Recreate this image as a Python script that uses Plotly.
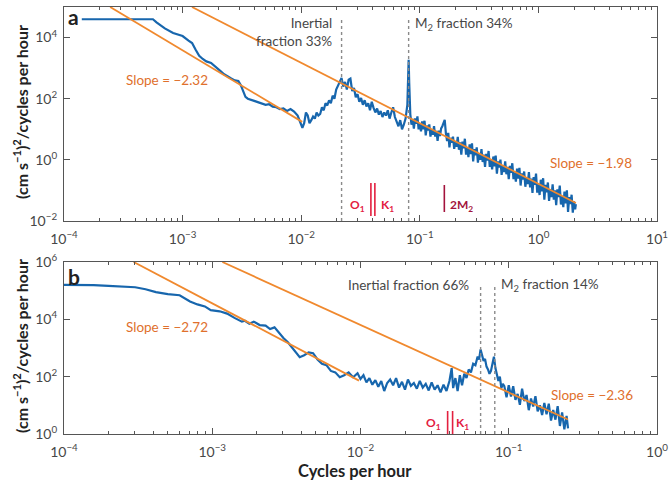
import numpy as np
import plotly.graph_objects as go

# ---------------- data (log10 values) ----------------
# Panel a: log10(cycles per hour), log10(power)
a_logf = [-3.85, -3.70, -3.55, -3.40, -3.25, -3.22, -3.15, -3.08, -3.00, -2.95,
          -2.92, -2.89, -2.86, -2.83, -2.80, -2.76, -2.72, -2.68, -2.65, -2.62,
          -2.59, -2.56, -2.53, -2.51, -2.49, -2.47, -2.45, -2.42, -2.39, -2.36,
          -2.33, -2.30, -2.27, -2.24, -2.21, -2.18, -2.15, -2.12, -2.09, -2.06,
          -2.03, -2.01, -1.99, -1.975, -1.96, -1.945, -1.93, -1.915, -1.90, -1.885,
          -1.87, -1.855, -1.84, -1.825, -1.81, -1.795, -1.78, -1.765, -1.75, -1.735,
          -1.72, -1.705, -1.69, -1.675, -1.66,
          -1.645, -1.63, -1.615, -1.60, -1.585, -1.57, -1.555, -1.54, -1.525, -1.51,
          -1.495, -1.48, -1.465, -1.45, -1.435, -1.42, -1.405, -1.39, -1.375, -1.36,
          -1.345, -1.33, -1.315, -1.30, -1.285, -1.27, -1.255, -1.24, -1.225, -1.21,
          -1.195, -1.18, -1.165, -1.15, -1.135, -1.12, -1.105, -1.099, -1.094, -1.089,
          -1.085,
          -1.08, -1.07, -1.06, -1.05, -1.04, -1.03, -1.02, -1.01, -1.00, -0.99,
          -0.98, -0.97, -0.96, -0.95, -0.94, -0.93, -0.92, -0.91, -0.90, -0.89,
          -0.88, -0.87, -0.86, -0.85, -0.84, -0.83, -0.82, -0.81, -0.80, -0.79,
          -0.78, -0.77, -0.76, -0.75, -0.74, -0.73, -0.72, -0.71, -0.70, -0.69,
          -0.68, -0.67, -0.66, -0.65, -0.64, -0.63, -0.62, -0.61, -0.60, -0.59,
          -0.58, -0.57, -0.56, -0.55, -0.54, -0.53, -0.52, -0.51, -0.50, -0.49,
          -0.48, -0.47, -0.46, -0.45, -0.44, -0.43, -0.42, -0.41, -0.40, -0.39,
          -0.38, -0.37, -0.36, -0.35, -0.34, -0.33, -0.32, -0.31, -0.30, -0.29,
          -0.28, -0.27, -0.26, -0.25, -0.24, -0.23, -0.22, -0.21, -0.20, -0.19,
          -0.18, -0.17, -0.16, -0.15, -0.14, -0.13, -0.12, -0.11, -0.10, -0.09,
          -0.08, -0.07, -0.06, -0.05, -0.04, -0.03, -0.02, -0.01, 0.00, 0.01,
          0.02, 0.03, 0.04, 0.05, 0.06, 0.07, 0.08, 0.09, 0.10, 0.11,
          0.12, 0.13, 0.14, 0.15, 0.16, 0.17, 0.18, 0.19, 0.20, 0.21,
          0.22, 0.23, 0.24, 0.25, 0.26, 0.27, 0.28, 0.29, 0.30, 0.31,
          0.316]
a_logp = [4.60, 4.60, 4.61, 4.60, 4.60, 4.50, 4.30, 4.15, 4.05, 3.90,
          3.82, 3.60, 3.40, 3.30, 3.22, 3.17, 3.05, 2.90, 2.80, 2.72,
          2.66, 2.60, 2.58, 2.45, 2.25, 2.06, 2.00, 1.95, 1.92, 1.88,
          1.84, 1.80, 1.82, 1.74, 1.72, 1.66, 1.68, 1.60, 1.66, 1.58,
          1.45, 1.25, 1.05, 1.20, 1.55, 1.45, 1.20, 1.30, 1.42, 1.35,
          1.55, 1.45, 1.50, 1.72, 1.62, 1.85, 1.78, 1.95, 1.85, 2.10,
          2.00, 2.30, 2.45, 2.55, 2.68,
          2.40, 2.55, 2.30, 2.62, 2.66, 2.25, 2.35, 2.05, 2.15, 1.90,
          2.02, 1.80, 1.95, 1.75, 1.85, 1.62, 1.90, 1.70, 1.55, 1.68,
          1.48, 1.60, 1.40, 1.55, 1.45, 1.62, 1.35, 1.55, 1.72, 1.40,
          1.25, 1.10, 1.30, 1.00, 1.15, 1.35, 1.80, 2.60, 3.27, 2.50,
          1.70,
          1.49, 1.15, 1.34, 1.02, 1.36, 1.18, 1.42, 1.00, 1.17, 0.93,
          1.26, 1.00, 1.28, 0.80, 1.12, 0.96, 1.16, 0.76, 1.00, 0.82,
          1.10, 0.76, 0.95, 0.62, 0.96, 0.78, 1.03, 1.10, 1.20, 1.31,
          0.87, 0.61, 0.88, 0.41, 0.72, 0.56, 0.76, 0.36, 0.61, 0.43,
          0.75, 0.33, 0.57, 0.17, 0.60, 0.38, 0.69, 0.17, 0.39, 0.09,
          0.51, 0.19, 0.54, -0.05, 0.35, 0.15, 0.41, -0.09, 0.22, 0.00,
          0.35, -0.07, 0.17, -0.23, 0.20, -0.02, 0.29, -0.23, -0.01, -0.31,
          0.11, -0.21, 0.14, -0.45, -0.05, -0.25, 0.01, -0.49, -0.18, -0.40,
          -0.05, -0.47, -0.23, -0.63, -0.20, -0.42, -0.11, -0.63, -0.41, -0.71,
          -0.29, -0.61, -0.26, -0.84, -0.44, -0.64, -0.38, -0.88, -0.57, -0.79,
          -0.40, -0.90, -0.61, -1.08, -0.56, -0.82, -0.45, -1.07, -0.80, -1.15,
          -0.65, -1.03, -0.60, -1.30, -0.82, -1.06, -0.74, -1.34, -0.96, -1.22,
          -0.80, -1.30, -1.00, -1.48, -0.96, -1.22, -0.84, -1.46, -1.19, -1.55,
          -1.04, -1.42, -1.00, -1.70, -1.22, -1.45, -1.14, -1.73, -1.36, -1.62,
          -1.45]

# Panel b
b_logf = [-4.00, -3.90, -3.80, -3.70, -3.60, -3.52, -3.45, -3.38, -3.30, -3.22,
          -3.15, -3.10, -3.05, -3.01, -2.95, -2.90, -2.85, -2.80, -2.78, -2.75,
          -2.72, -2.68, -2.64, -2.61, -2.58, -2.55, -2.52, -2.49, -2.46, -2.43,
          -2.41, -2.38, -2.35, -2.32, -2.29, -2.26, -2.23, -2.20, -2.17, -2.14,
          -2.11, -2.08, -2.05, -2.02, -2.00, -1.98, -1.96, -1.94, -1.92, -1.90,
          -1.88, -1.86, -1.84, -1.82, -1.80, -1.78, -1.76, -1.74, -1.72, -1.70,
          -1.68, -1.66, -1.64, -1.62, -1.60, -1.58, -1.56, -1.54, -1.52, -1.50,
          -1.48, -1.46, -1.44, -1.42, -1.40, -1.385, -1.375, -1.36, -1.345, -1.33,
          -1.315, -1.30, -1.285, -1.27, -1.255, -1.24, -1.225, -1.21, -1.20, -1.19,
          -1.18, -1.17, -1.16, -1.15, -1.14, -1.13, -1.12, -1.11, -1.10, -1.09,
          -1.08, -1.07, -1.06, -1.05, -1.04,
          -1.03, -1.015, -1.00, -0.985, -0.97, -0.955, -0.94, -0.925, -0.91, -0.895,
          -0.88, -0.865, -0.85, -0.835, -0.82, -0.805, -0.79, -0.775, -0.76, -0.745,
          -0.73, -0.715, -0.70, -0.685, -0.67, -0.655, -0.64, -0.625, -0.61, -0.60]
b_logp = [5.20, 5.20, 5.19, 5.17, 5.14, 5.12, 5.05, 4.95, 4.88, 4.84,
          4.62, 4.52, 4.45, 4.32, 4.28, 4.20, 4.05, 3.92, 3.95, 3.85,
          3.92, 3.80, 3.78, 3.66, 3.72, 3.52, 3.35, 3.20, 3.00, 2.80,
          2.68, 2.75, 2.85, 2.82, 2.60, 2.45, 2.40, 2.20, 2.15, 1.98,
          2.05, 2.15, 1.98, 2.12, 1.92, 2.05, 1.80, 1.95, 1.72, 1.88,
          1.65, 1.85, 1.50, 1.78, 1.90, 1.70, 1.95, 1.62, 1.82, 1.55,
          1.90, 1.68, 1.78, 1.58, 1.85, 1.62, 1.75, 1.52, 1.80, 1.55,
          1.70, 1.45, 1.72, 1.50, 1.85, 2.30, 1.60, 1.95, 1.50, 2.05,
          1.70, 2.10, 1.95, 2.25, 2.15, 2.45, 2.40, 2.70, 2.60, 2.95,
          2.75, 2.55, 2.62, 2.35, 2.25, 2.10, 2.20, 2.45, 2.70, 2.30,
          2.05, 1.85, 2.00, 1.60, 1.75,
          1.67, 1.28, 1.70, 1.31, 1.67, 1.19, 1.40, 1.02, 1.58, 1.15,
          1.36, 0.83, 1.24, 0.96, 1.32, 0.79, 1.00, 0.66, 1.08, 0.69,
          1.06, 0.47, 0.84, 0.50, 0.97, 0.28, 0.75, 0.16, 0.63, 0.20]

# Fitted power-law segments (endpoints: cycles per hour, power)
fit_a1_f = [2.45e-4, 1.02e-2]
fit_a1_p = [1.0e5, 17.5]
fit_a2_f = [1.20e-3, 2.07]
fit_a2_p = [1.0e5, 0.039]
fit_b1_f = [2.95e-4, 9.77e-3]
fit_b1_p = [1.0e6, 73.0]
fit_b2_f = [1.17e-3, 0.251]
fit_b2_p = [1.0e6, 3.2]

slope_labels_a = ["Slope = −2.32", "Slope = −1.98"]
slope_labels_b = ["Slope = −2.72", "Slope = −2.36"]

# Reference frequencies (cycles per hour)
inertial_a = 0.0219
inertial_b = 0.0646
m2_freq = 0.0805
o1_freq = 0.0387
k1_freq = 0.0418
m2x2_freq = 0.161

# Tick labels
xa_vals = [1e-4, 1e-3, 1e-2, 1e-1, 1, 10]
xa_text = ["10<sup>−4</sup>", "10<sup>−3</sup>", "10<sup>−2</sup>",
           "10<sup>−1</sup>", "10<sup>0</sup>", "10<sup>1</sup>"]
xb_vals = [1e-4, 1e-3, 1e-2, 1e-1, 1]
xb_text = ["10<sup>−4</sup>", "10<sup>−3</sup>", "10<sup>−2</sup>",
           "10<sup>−1</sup>", "10<sup>0</sup>"]
ya_vals = [1e-2, 1, 1e2, 1e4]
ya_text = ["10<sup>−2</sup>", "10<sup>0</sup>", "10<sup>2</sup>", "10<sup>4</sup>"]
yb_vals = [1, 1e2, 1e4, 1e6]
yb_text = ["10<sup>0</sup>", "10<sup>2</sup>", "10<sup>4</sup>", "10<sup>6</sup>"]

# ---------------- styling ----------------
W, H = 671, 485
BLUE = "#1766ad"
ORANGE = "#f0892e"
ORANGE_TXT = "#e0702c"
RED = "#e3203f"
DARKRED = "#a3133c"
GRAY_TXT = "#474747"
FRAME = "#555555"
FONT = "Lato"


def px(x):
    return x / W


def py(y):
    return 1 - y / H


fig = go.Figure()

fig.add_trace(go.Scatter(x=np.power(10.0, a_logf), y=np.power(10.0, a_logp),
                         mode="lines", line=dict(color=BLUE, width=2.2),
                         xaxis="x", yaxis="y", showlegend=False))
fig.add_trace(go.Scatter(x=fit_a1_f, y=fit_a1_p, mode="lines",
                         line=dict(color=ORANGE, width=1.8),
                         xaxis="x", yaxis="y", showlegend=False))
fig.add_trace(go.Scatter(x=fit_a2_f, y=fit_a2_p, mode="lines",
                         line=dict(color=ORANGE, width=1.8),
                         xaxis="x", yaxis="y", showlegend=False))

fig.add_trace(go.Scatter(x=np.power(10.0, b_logf), y=np.power(10.0, b_logp),
                         mode="lines", line=dict(color=BLUE, width=2.2),
                         xaxis="x2", yaxis="y2", showlegend=False))
fig.add_trace(go.Scatter(x=fit_b1_f, y=fit_b1_p, mode="lines",
                         line=dict(color=ORANGE, width=1.8),
                         xaxis="x2", yaxis="y2", showlegend=False))
fig.add_trace(go.Scatter(x=fit_b2_f, y=fit_b2_p, mode="lines",
                         line=dict(color=ORANGE, width=1.8),
                         xaxis="x2", yaxis="y2", showlegend=False))

minor_xa = [m * 10.0 ** e for e in range(-4, 1) for m in range(2, 10)]
minor_xb = [m * 10.0 ** e for e in range(-4, 0) for m in range(2, 10)]

xdom = [px(64), px(657)]
common_axis = dict(type="log", showgrid=False, zeroline=False, showline=True,
                   automargin=False,
                   linecolor=FRAME, linewidth=1.2, mirror="ticks",
                   ticks="inside", ticklen=6, tickcolor=FRAME, tickwidth=1,
                   tickmode="array",
                   tickfont=dict(family=FONT, size=14, color=GRAY_TXT))

fig.update_layout(
    template="none",
    width=W, height=H,
    margin=dict(l=0, r=0, t=0, b=0, autoexpand=False),
    paper_bgcolor="white", plot_bgcolor="white",
    xaxis=dict(common_axis, domain=xdom, range=[-4, 1], anchor="y",
               tickvals=xa_vals, ticktext=xa_text, ticklabelstandoff=5,
               minor=dict(ticks="inside", ticklen=3, tickcolor=FRAME,
                          tickmode="array", tickvals=minor_xa)),
    yaxis=dict(common_axis, domain=[py(221), py(7)], range=[-2, 5], anchor="x",
               tickvals=ya_vals, ticktext=ya_text, ticklabelstandoff=3),
    xaxis2=dict(common_axis, domain=xdom, range=[-4, 0], anchor="y2",
                tickvals=xb_vals, ticktext=xb_text, ticklabelstandoff=5,
                minor=dict(ticks="inside", ticklen=3, tickcolor=FRAME,
                           tickmode="array", tickvals=minor_xb)),
    yaxis2=dict(common_axis, domain=[py(434), py(262)], range=[0, 6], anchor="x2",
                tickvals=yb_vals, ticktext=yb_text, ticklabelstandoff=3),
)

shapes = []
dash = dict(color="#8a8a8a", width=1.4, dash="3px,3px")
for xv in [inertial_a, m2_freq]:
    shapes.append(dict(type="line", xref="x", yref="y domain", x0=xv, x1=xv,
                       y0=0, y1=(221 - 20) / 214, line=dash, layer="above"))
for xv in [inertial_b, m2_freq]:
    shapes.append(dict(type="line", xref="x2", yref="y2 domain", x0=xv, x1=xv,
                       y0=0, y1=(434 - 287) / 172, line=dash, layer="above"))
for xv in [o1_freq, k1_freq]:
    shapes.append(dict(type="line", xref="x", yref="y domain", x0=xv, x1=xv,
                       y0=(221 - 216) / 214, y1=(221 - 183) / 214,
                       line=dict(color=RED, width=1.6)))
    shapes.append(dict(type="line", xref="x2", yref="y2 domain", x0=xv, x1=xv,
                       y0=0, y1=(434 - 411) / 172,
                       line=dict(color=RED, width=1.6)))
shapes.append(dict(type="line", xref="x", yref="y domain", x0=m2x2_freq, x1=m2x2_freq,
                   y0=(221 - 212) / 214, y1=(221 - 185) / 214,
                   line=dict(color=DARKRED, width=1.6)))
fig.update_layout(shapes=shapes)


def note(text, x, y, xanchor="center", color=GRAY_TXT, size=13.5, bold=False,
         align="center", angle=0):
    fig.add_annotation(text=("<b>%s</b>" % text) if bold else text,
                       xref="paper", yref="paper", x=px(x), y=py(y),
                       xanchor=xanchor, yanchor="middle", showarrow=False,
                       align=align, textangle=angle,
                       font=dict(family=FONT, size=size, color=color))


# panel labels
note("a", 73, 17, size=21, bold=True, color="#222222")
note("b", 74, 276, size=21, bold=True, color="#222222")

# panel a texts
note("Inertial<br>fraction 33%", 334, 32, xanchor="right", align="right")
note("M<sub>2</sub> fraction 34%", 413, 24, xanchor="left")
note(slope_labels_a[0], 167, 80, color=ORANGE_TXT)
note(slope_labels_a[1], 548, 163, xanchor="left", color=ORANGE_TXT)
note("O<sub>1</sub>", 367, 205, xanchor="right", color=RED, size=12, bold=True)
note("K<sub>1</sub>", 379, 205, xanchor="left", color=RED, size=12, bold=True)
note("2M<sub>2</sub>", 448, 205, xanchor="left", color=DARKRED, size=12, bold=True)

# panel b texts
note("Inertial fraction 66%", 471, 285, xanchor="right")
note("M<sub>2</sub> fraction 14%", 499, 285, xanchor="left")
note(slope_labels_b[0], 167, 327, color=ORANGE_TXT)
note(slope_labels_b[1], 549, 395, xanchor="left", color=ORANGE_TXT)
note("O<sub>1</sub>", 443, 423, xanchor="right", color=RED, size=12, bold=True)
note("K<sub>1</sub>", 454, 423, xanchor="left", color=RED, size=12, bold=True)

# axis titles
ytitle = "(cm s<sup>−1</sup>)<sup>2</sup>/cycles per hour"
note(ytitle, 20, 112, size=16, bold=True, color="#222222", angle=-90)
note(ytitle, 20, 346, size=16, bold=True, color="#222222", angle=-90)
note("Cycles per hour", 355, 471, size=16.5, bold=True, color="#222222")

fig.write_html("out.html",
               config={"displayModeBar": False},
               post_script="document.body.style.margin='0';"
                           "document.body.style.overflow='hidden';")
